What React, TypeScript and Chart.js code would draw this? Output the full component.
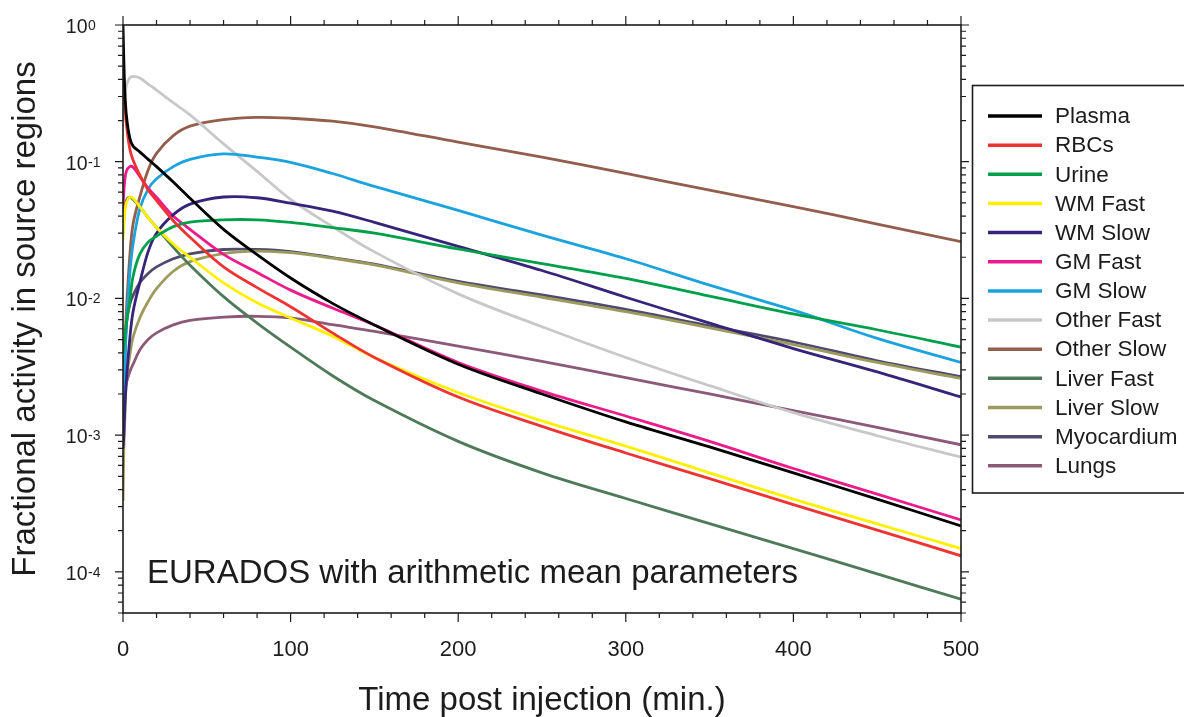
import React, { useEffect, useRef } from "react";
import { Chart, registerables } from "chart.js";

Chart.register(...registerables);

// ---- data (time in minutes, fractional activity) ----
const times = [0, 0.5, 1, 2, 4, 6, 10, 15, 20, 30, 40, 60, 80, 100, 125, 150, 200, 250, 300, 350, 400, 450, 500];

const plasma = [1.0, 0.55, 0.35, 0.22, 0.15, 0.13, 0.118, 0.104, 0.092, 0.071, 0.054, 0.032, 0.0209, 0.0141, 0.0092, 0.0064, 0.0033, 0.002, 0.00125, 0.00082, 0.00053, 0.00034, 0.000217];
const rbcs = [0.38, 0.32, 0.27, 0.19, 0.125, 0.103, 0.08, 0.062, 0.052, 0.037, 0.028, 0.017, 0.012, 0.0087, 0.0056, 0.0037, 0.0019, 0.00116, 0.00074, 0.00048, 0.00031, 0.000202, 0.000131];
const urine = [0.004, 0.0045, 0.005, 0.0065, 0.0095, 0.0145, 0.021, 0.0258, 0.0285, 0.0335, 0.0362, 0.0376, 0.0376, 0.036, 0.033, 0.03, 0.023, 0.018, 0.014, 0.0104, 0.0077, 0.0059, 0.0044];
const wmFast = [0.027, 0.034, 0.042, 0.05, 0.055, 0.054, 0.047, 0.039, 0.033, 0.025, 0.02, 0.013, 0.0093, 0.0072, 0.0053, 0.0037, 0.00205, 0.00127, 0.00083, 0.00053, 0.00034, 0.000224, 0.000148];
const wmSlow = [0.0008, 0.001, 0.0015, 0.0025, 0.005, 0.008, 0.013, 0.022, 0.03, 0.041, 0.049, 0.0552, 0.0545, 0.0497, 0.0435, 0.036, 0.024, 0.016, 0.0102, 0.0066, 0.0043, 0.0029, 0.0019];
const gmFast = [0.045, 0.06, 0.072, 0.085, 0.092, 0.091, 0.078, 0.064, 0.055, 0.04, 0.032, 0.021, 0.0155, 0.0115, 0.0085, 0.0064, 0.0034, 0.0021, 0.00138, 0.0009, 0.00057, 0.00037, 0.00024];
const gmSlow = [0.0015, 0.002, 0.003, 0.006, 0.015, 0.025, 0.045, 0.063, 0.075, 0.092, 0.104, 0.114, 0.108, 0.099, 0.082, 0.066, 0.044, 0.029, 0.0195, 0.0125, 0.0082, 0.0051, 0.0034];
const otherFast = [0.2, 0.25, 0.3, 0.36, 0.41, 0.42, 0.41, 0.37, 0.334, 0.27, 0.22, 0.135, 0.085, 0.053, 0.0335, 0.0219, 0.0108, 0.0062, 0.0037, 0.0023, 0.00146, 0.00099, 0.00069];
const otherSlow = [0.001, 0.002, 0.004, 0.008, 0.02, 0.035, 0.055, 0.087, 0.115, 0.155, 0.182, 0.203, 0.211, 0.208, 0.198, 0.18, 0.139, 0.108, 0.082, 0.062, 0.047, 0.035, 0.026];
const liverFast = [0.03, 0.038, 0.045, 0.052, 0.055, 0.053, 0.047, 0.039, 0.033, 0.0237, 0.0175, 0.0103, 0.0066, 0.0044, 0.00272, 0.00179, 0.0009, 0.00053, 0.000344, 0.000225, 0.000148, 0.0000966, 0.000063];
const liverSlow = [0.00033, 0.0008, 0.0012, 0.0025, 0.0038, 0.0052, 0.0072, 0.0095, 0.0118, 0.0158, 0.0186, 0.0213, 0.0222, 0.0216, 0.0197, 0.0176, 0.013, 0.0102, 0.008, 0.0061, 0.0046, 0.0034, 0.0026];
const myocardium = [0.0007, 0.0015, 0.003, 0.0065, 0.009, 0.0105, 0.013, 0.0152, 0.017, 0.0195, 0.0212, 0.0228, 0.0228, 0.022, 0.0199, 0.0178, 0.0133, 0.0106, 0.0083, 0.0063, 0.0048, 0.0035, 0.00268];
const lungs = [0.0015, 0.0017, 0.002, 0.0024, 0.0029, 0.0033, 0.0042, 0.005, 0.0056, 0.0064, 0.0069, 0.0073, 0.0074, 0.0072, 0.00642, 0.00575, 0.00447, 0.00347, 0.00263, 0.002, 0.00151, 0.00114, 0.00085];

const seriesNames = ["Plasma", "RBCs", "Urine", "WM Fast", "WM Slow", "GM Fast", "GM Slow", "Other Fast", "Other Slow", "Liver Fast", "Liver Slow", "Myocardium", "Lungs"];
const seriesValues = [plasma, rbcs, urine, wmFast, wmSlow, gmFast, gmSlow, otherFast, otherSlow, liverFast, liverSlow, myocardium, lungs];
const seriesColors = ["#000000", "#ee3333", "#00a04a", "#fff000", "#36237a", "#ec1b8c", "#1ba3dd", "#c8c8c8", "#935e4b", "#4e7a5a", "#9c9a5c", "#4f4b6e", "#8c5a78"];

const xTickStep = 100;
const yExponents = [0, -1, -2, -3, -4];
const xTitle = "Time post injection (min.)";
const yTitle = "Fractional activity in source regions";
const annotation = "EURADOS with arithmetic mean parameters";

const FONT = '"Liberation Sans", Arial, Helvetica, sans-serif';
const INK = "#1c1c1c";

const decorPlugin = {
  id: "decor",
  afterDraw(chart: any) {
    const { ctx, chartArea: a, scales } = chart;
    const xs = scales.x;
    const ys = scales.y;
    ctx.save();
    // frame
    ctx.strokeStyle = INK;
    ctx.lineWidth = 1.6;
    ctx.strokeRect(a.left, a.top, a.right - a.left, a.bottom - a.top);
    // ticks
    ctx.lineWidth = 1.2;
    ctx.beginPath();
    for (let v = 0; v <= 500; v += 20) {
      const px = xs.getPixelForValue(v);
      const len = v % 100 === 0 ? 9 : 5;
      ctx.moveTo(px, a.bottom);
      ctx.lineTo(px, a.bottom + len);
      ctx.moveTo(px, a.top);
      ctx.lineTo(px, a.top - len);
    }
    for (let d = -5; d <= 0; d++) {
      for (let m = 1; m <= 9; m++) {
        const v = m * Math.pow(10, d);
        if (v < ys.min * 0.999 || v > ys.max * 1.001) continue;
        const py = ys.getPixelForValue(v);
        const len = m === 1 ? 8 : 5;
        ctx.moveTo(a.left - len, py);
        ctx.lineTo(a.left, py);
        ctx.moveTo(a.right, py);
        ctx.lineTo(a.right + len, py);
      }
    }
    ctx.stroke();

    // y tick labels with superscript exponents
    ctx.fillStyle = INK;
    ctx.textBaseline = "alphabetic";
    for (const e of yExponents) {
      const py = ys.getPixelForValue(Math.pow(10, e));
      ctx.font = `19.5px ${FONT}`;
      ctx.textAlign = "right";
      ctx.fillText("10", a.left - 35.5, py + 8);
      ctx.font = `14px ${FONT}`;
      ctx.textAlign = "left";
      ctx.fillText(String(e), a.left - 35, py + 5);
    }

    // annotation text
    ctx.font = `33px ${FONT}`;
    ctx.textAlign = "left";
    ctx.textBaseline = "alphabetic";
    ctx.fillText(annotation, 147, 583);

    // legend box
    const lx = 972.5;
    const ly = 85.5;
    ctx.lineWidth = 1.6;
    ctx.strokeStyle = INK;
    ctx.strokeRect(lx, ly, 1200 - lx, 493 - ly);
    ctx.font = `22.5px ${FONT}`;
    ctx.textBaseline = "middle";
    chart.data.datasets.forEach((ds: any, i: number) => {
      const y = 116 + i * 29.15;
      ctx.strokeStyle = ds.borderColor;
      ctx.lineWidth = 3.5;
      ctx.beginPath();
      ctx.moveTo(988, y);
      ctx.lineTo(1042, y);
      ctx.stroke();
      ctx.fillStyle = INK;
      ctx.fillText(ds.label, 1055, y + 1);
    });
    ctx.restore();
  },
};

export default function App() {
  const canvasRef = useRef<HTMLCanvasElement | null>(null);

  useEffect(() => {
    const canvas = canvasRef.current;
    if (!canvas) return;
    const datasets = seriesNames.map((name, i) => ({
      label: name,
      data: times.map((t, j) => ({ x: t, y: seriesValues[i][j] })),
      borderColor: seriesColors[i],
      backgroundColor: seriesColors[i],
      borderWidth: 2.8,
      pointRadius: 0,
      fill: false,
      tension: 0.35,
    }));
    const chart = new Chart(canvas, {
      type: "line",
      data: { datasets },
      options: {
        animation: false,
        responsive: true,
        maintainAspectRatio: false,
        devicePixelRatio: 1,
        layout: { padding: { left: 0, top: 25, right: 223, bottom: 0 } },
        plugins: { legend: { display: false }, tooltip: { enabled: false } },
        scales: {
          x: {
            type: "linear",
            min: 0,
            max: 500,
            grid: { display: false, drawTicks: false },
            border: { display: false },
            ticks: {
              stepSize: xTickStep,
              padding: 24,
              maxRotation: 0,
              color: INK,
              font: { family: FONT, size: 22 },
              callback: (v: any) => String(v),
            },
            title: {
              display: true,
              text: xTitle,
              color: INK,
              font: { family: FONT, size: 33, lineHeight: 1 },
              padding: { top: 0, bottom: 0 },
            },
            afterFit: (s: any) => {
              s.height = 104;
            },
          },
          y: {
            type: "logarithmic",
            min: 5e-5,
            max: 1,
            grid: { display: false, drawTicks: false },
            border: { display: false },
            ticks: { display: false },
            afterBuildTicks: (s: any) => {
              s.ticks = yExponents.map((e) => ({ value: Math.pow(10, e) }));
            },
            title: {
              display: true,
              text: yTitle,
              color: INK,
              font: { family: FONT, size: 33, lineHeight: 1 },
              padding: { top: 9.5, bottom: 0 },
            },
            afterFit: (s: any) => {
              s.width = 123;
            },
          },
        },
      },
      plugins: [decorPlugin],
    });
    return () => chart.destroy();
  }, []);

  return (
    <div style={{ position: "fixed", left: 0, top: 0, width: 1184, height: 717, background: "#fff" }}>
      <canvas ref={canvasRef} />
    </div>
  );
}
